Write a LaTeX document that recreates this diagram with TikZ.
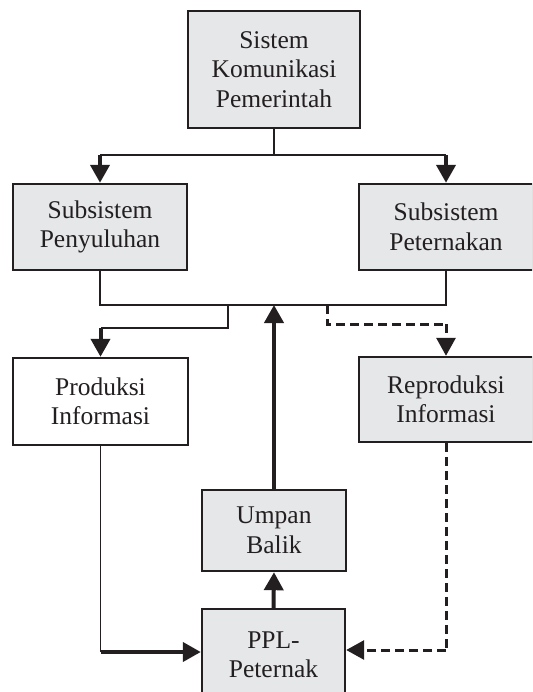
\documentclass[tikz,border=0pt]{standalone}
\usepackage{fontspec}
\setmainfont{Liberation Serif}
\usetikzlibrary{arrows.meta}
\definecolor{boxgray}{RGB}{230,231,233}
\definecolor{ink}{RGB}{35,31,32}
\begin{document}
\begin{tikzpicture}[x=1pt,y=-1pt,
  box/.style={draw=ink, line width=2.4pt, fill=boxgray, align=center, inner sep=0pt,
    font=\fontsize{25.5}{29.5}\selectfont, text=ink},
  whitebox/.style={box, fill=white},
  thinline/.style={draw=ink, line width=1.8pt},
  thickline/.style={draw=ink, line width=4pt},
  tip/.style={-{Triangle[width=19pt,length=18pt]}},
  thickarrow/.style={thickline, tip},
  dashline/.style={draw=ink, line width=3pt, dash pattern=on 9pt off 5pt},
  dasharrow/.style={dashline, tip}]
\useasboundingbox (0,0) rectangle (532,692);
\clip (0,0) rectangle (532,692);

\node[box, minimum width=172pt, minimum height=117pt] (top) at (274,69.5)
  {Sistem\\Komunikasi\\Pemerintah};
\node[box, minimum width=174pt, minimum height=86pt] (peny) at (100,227)
  {Subsistem\\Penyuluhan};
\node[box, minimum width=174pt, minimum height=86pt] (pet) at (446,227)
  {Subsistem\\Peternakan};
\node[whitebox, minimum width=175pt, minimum height=87pt] (prod) at (100.5,401.5)
  {Produksi\\Informasi};
\node[box, minimum width=174pt, minimum height=85pt] (repro) at (446,399.5)
  {Reproduksi\\Informasi};
\node[box, minimum width=144pt, minimum height=81pt] (umpan) at (274,530.5)
  {Umpan\\Balik};
\node[box, minimum width=143pt, minimum height=92pt] (ppl) at (273.5,655)
  {PPL-\\Peternak};

% top distribution
\coordinate (j1) at (274,155);
\coordinate (jl) at (100,155);
\coordinate (jr) at (446,155);
\draw[thinline] (top.south) -- (j1);
\draw[thinline] (jl) -- (jr);
\draw[thickarrow] (jl) -- (peny.north);
\draw[thickarrow] (jr) -- (pet.north);

% collector line
\coordinate (hub) at (274,305);
\draw[thinline] (peny.south) |- (hub) -| (pet.south);

% branch to Produksi
\coordinate (b1) at (228,305);
\coordinate (b2) at (100.5,328);
\draw[thinline] (b1) |- (b2);
\draw[thickarrow] (b2) -- (prod.north);

% dashed branch to Reproduksi
\coordinate (d1) at (327,305);
\coordinate (d2) at (446,324);
\draw[dashline] (d1) |- (d2);
\draw[dasharrow] (d2) -- (repro.north);

% feedback
\draw[thickarrow] (umpan.north) -- (hub);
\draw[thickarrow] (ppl.north) -- (umpan.south);

% Produksi to PPL
\coordinate (c1) at (100.5,652);
\draw[thinline] (prod.south) -- (c1);
\draw[thickarrow] (c1) -- (ppl.west |- c1);

% Reproduksi to PPL (dashed)
\coordinate (c2) at (446,650);
\draw[dashline] (repro.south) -- (c2);
\draw[dasharrow] (c2) -- (ppl.east |- c2);
\end{tikzpicture}
\end{document}
